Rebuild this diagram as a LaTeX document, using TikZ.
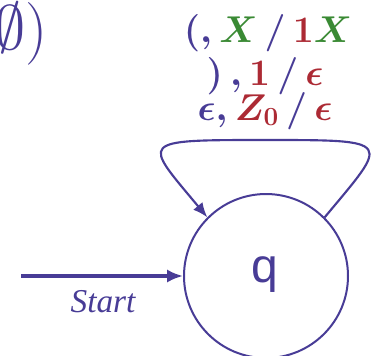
\RequirePackage{fix-cm}
\documentclass[tikz,border=0pt]{standalone}
\usepackage{amsmath,bm}
\usepackage{fontspec}
\newfontfamily\qfont{Liberation Sans}
\newfontfamily\startfont{Liberation Serif}
\usetikzlibrary{arrows.meta}
\definecolor{cb}{RGB}{72,60,150}
\definecolor{cg}{RGB}{58,138,52}
\definecolor{cr}{RGB}{172,42,52}
\tikzset{
  state/.style={circle,draw=cb,line width=1.5pt,minimum size=123pt,inner sep=0pt},
  loopedge/.style={draw=cb,line width=1.6pt,-{Latex[length=11pt,width=9pt]}},
  startedge/.style={draw=cb,line width=3pt,-{Latex[length=12pt,width=10pt]}},
  lbl/.style={anchor=base,inner sep=0pt,font=\fontsize{28}{28}\selectfont\boldmath},
}
\begin{document}
\begin{tikzpicture}[x=0.75pt,y=-0.75pt]
\useasboundingbox (0,0) rectangle (379,355);
\node[state] (q) at (266,276) {};
\node[anchor=base,inner sep=0pt,text=cb,font=\qfont\fontsize{36}{36}\selectfont] (qt) at (265,282) {q};
\node[anchor=base east,inner sep=0pt,text=cb,font=\fontsize{47}{47}\selectfont] (top) at (48,49) {$\emptyset)$};
\node[lbl] (l1) at (268,42) {$\color{cb}(,\color{cg}X\,\color{cb}/\,\color{cr}1\color{cg}X$};
\node[lbl] (l2) at (265,85) {$\color{cb})\,,\color{cr}1\,\color{cb}/\,\color{cr}\epsilon$};
\node[lbl] (l3) at (265,120) {$\color{cb}\epsilon,\color{cr}Z_{0}\,\color{cb}/\,\color{cr}\epsilon$};
\coordinate (s) at (21,276);
\draw[startedge] (s) -- (q.west);
\node[anchor=base,inner sep=0pt,text=cb,font=\startfont\itshape\fontsize{25}{25}\selectfont] (st) at (103,312) {Start};
\draw[loopedge] (q.45) .. controls (389,140) and (396,140) .. (266,140)
  .. controls (136,140) and (143,140) .. (q.135);
\end{tikzpicture}
\end{document}
